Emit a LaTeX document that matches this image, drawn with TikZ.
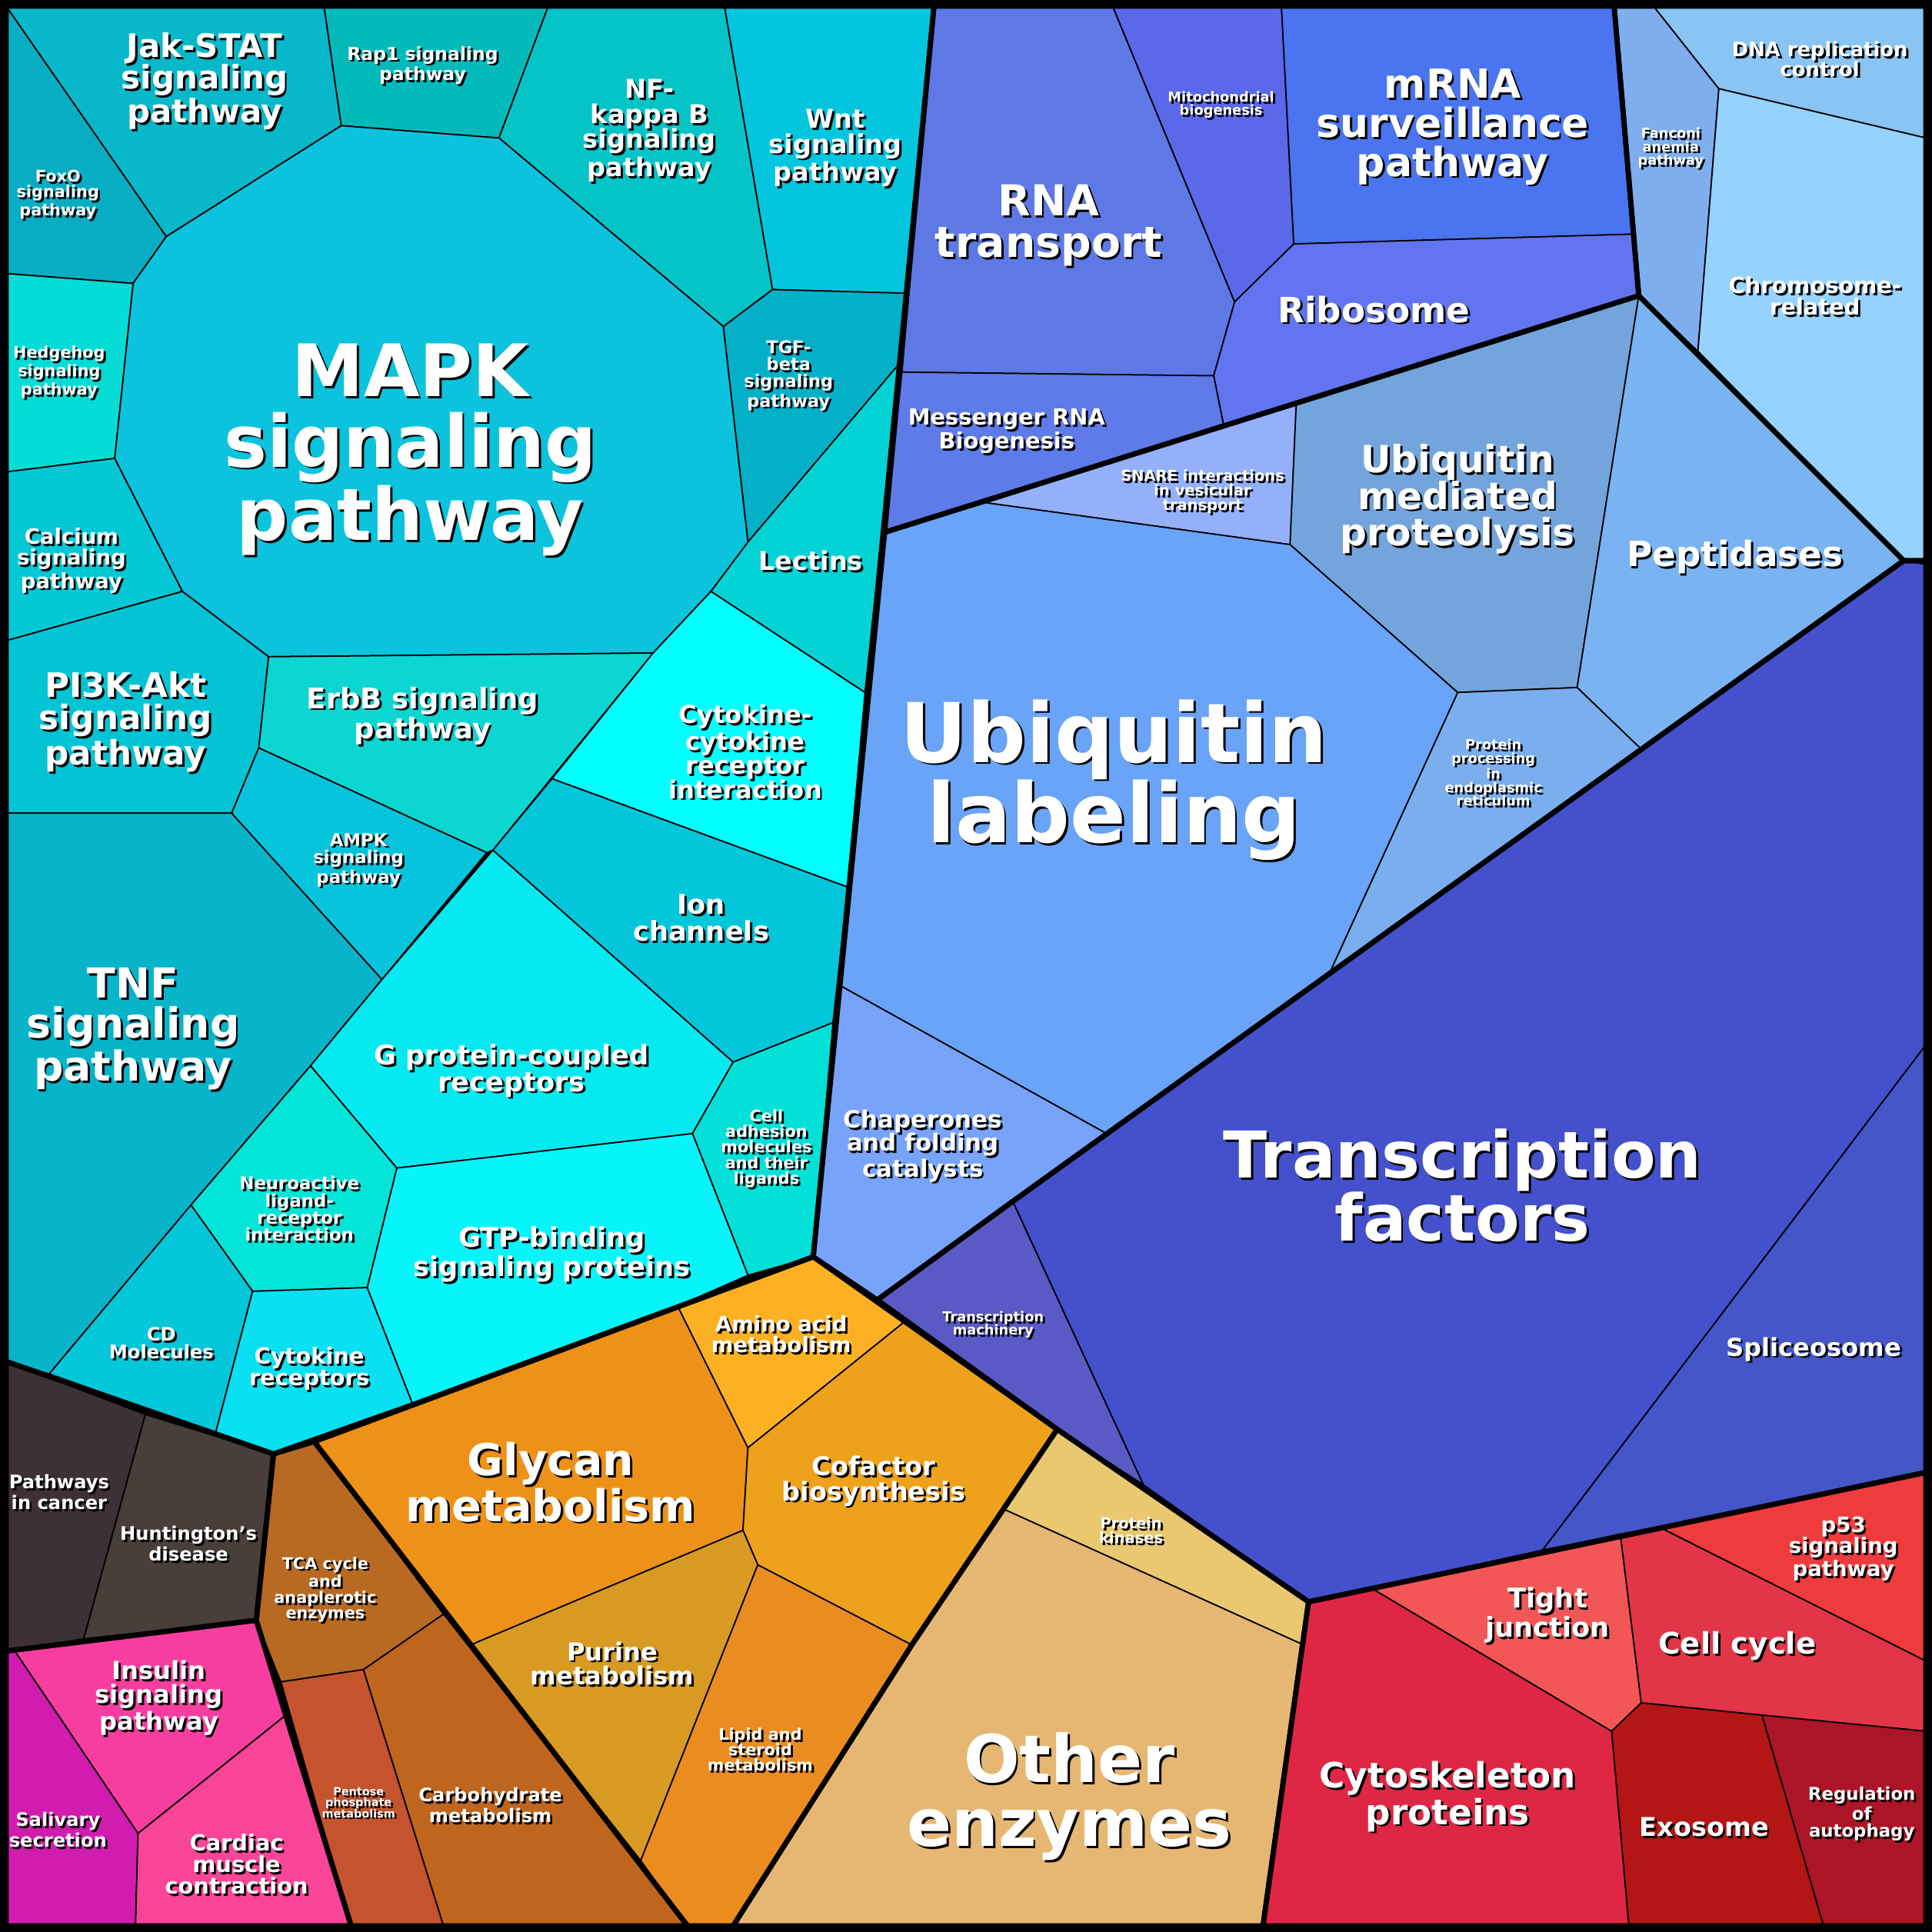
\documentclass[tikz,border=0pt]{standalone}
\usepackage{fontspec}
\setmainfont{DejaVu Sans}
\begin{document}
\begin{tikzpicture}[x=0.01602cm,y=-0.01602cm,
 cell/.style={draw=black,line width=0.5pt,line join=round},
 grp/.style={draw=black,line width=1.9pt,line join=round},
 lbl/.style={text=white,align=center,inner sep=0pt,font=\bfseries}]
\useasboundingbox (0,0) rectangle (1568,1568);
\fill[black] (0,0) rectangle (1568,1568);
\newcommand\cl[2]{\draw[cell,fill=#1] #2 -- cycle;}
\newcommand\lb[4]{%
 \node[lbl,text=black,xshift=.8pt,yshift=-.8pt,font=\bfseries\fontsize{\fpeval{#3*0.955}pt}{\fpeval{#3*0.93}pt}\selectfont] (#1s) at (#2) {#4};
 \node[lbl,font=\bfseries\fontsize{\fpeval{#3*0.955}pt}{\fpeval{#3*0.93}pt}\selectfont] (#1) at (#2) {#4};}
\definecolor{foxo}{HTML}{07AEC3}\definecolor{jak}{HTML}{07B8CA}\definecolor{rap}{HTML}{03BABB}
\definecolor{nfk}{HTML}{04C4C8}\definecolor{wnt}{HTML}{03C5DD}\definecolor{tgf}{HTML}{04AFC8}
\definecolor{mapk}{HTML}{0BC3DC}\definecolor{hh}{HTML}{05DCD6}\definecolor{calc}{HTML}{04C8D6}
\definecolor{pi3k}{HTML}{03C4D4}\definecolor{erbb}{HTML}{0CD6D2}\definecolor{ampk}{HTML}{06C4DC}
\definecolor{tnf}{HTML}{07B4C9}\definecolor{lect}{HTML}{04D3D6}\definecolor{cyto}{HTML}{00FFFF}
\definecolor{ion}{HTML}{03C6DA}\definecolor{cam}{HTML}{02E0D8}\definecolor{gpc}{HTML}{05EAF0}
\definecolor{gtp}{HTML}{05F5FA}\definecolor{neur}{HTML}{03E5D8}\definecolor{cdm}{HTML}{05C7DA}
\definecolor{cyr}{HTML}{09E0F2}
\definecolor{pic}{HTML}{3D3136}\definecolor{hun}{HTML}{483E3A}
\definecolor{ins}{HTML}{F73EA0}\definecolor{sal}{HTML}{D11CAF}\definecolor{card}{HTML}{F94598}
\definecolor{tca}{HTML}{B86A23}\definecolor{pent}{HTML}{C5532D}\definecolor{carb}{HTML}{C0651E}
\definecolor{gly}{HTML}{EE9118}\definecolor{amin}{HTML}{FBB122}\definecolor{cof}{HTML}{EEA11B}
\definecolor{pur}{HTML}{D89A22}\definecolor{lip}{HTML}{EA8C20}
\definecolor{kin}{HTML}{E9C870}\definecolor{oth}{HTML}{E6B772}
\definecolor{tmach}{HTML}{5A5AC6}\definecolor{tf}{HTML}{4450CC}\definecolor{spl}{HTML}{4456C8}
\definecolor{tj}{HTML}{F25656}\definecolor{csk}{HTML}{E02645}\definecolor{cc}{HTML}{E23548}
\definecolor{p53}{HTML}{EF3B3C}\definecolor{exo}{HTML}{B31615}\definecolor{aut}{HTML}{AB1527}
\definecolor{rnat}{HTML}{5E79E6}\definecolor{mito}{HTML}{5C68EA}\definecolor{mrna}{HTML}{4A74F0}
\definecolor{ribo}{HTML}{6274F0}\definecolor{mess}{HTML}{5F7AE9}
\definecolor{snare}{HTML}{94B0FB}\definecolor{ubm}{HTML}{73A5DC}\definecolor{pep}{HTML}{7AB3F2}
\definecolor{ppr}{HTML}{7AAEEF}\definecolor{ubl}{HTML}{69A4F8}\definecolor{chap}{HTML}{78A3FB}
\definecolor{fan}{HTML}{7FAEEF}\definecolor{dna}{HTML}{89C4F3}\definecolor{chr}{HTML}{95D2FD}
\cl{foxo}{(5,5)--(135,192)--(108,230)--(5,222)}
\cl{jak}{(5,5)--(263,5)--(277,102)--(135,192)}
\cl{rap}{(263,5)--(445,5)--(405,112)--(277,102)}
\cl{nfk}{(445,5)--(588,5)--(627,235)--(587,265)--(405,112)}
\cl{wnt}{(588,5)--(758,5)--(735,238)--(627,235)}
\cl{tgf}{(587,265)--(627,235)--(735,238)--(730,295)--(607,440)}
\cl{mapk}{(277,102)--(405,112)--(587,265)--(607,440)--(577,480)--(530,530)--(218,533)--(148,480)--(93,372)--(108,230)--(135,192)}
\cl{hh}{(5,222)--(108,230)--(93,372)--(5,383)}
\cl{calc}{(5,383)--(93,372)--(148,480)--(5,520)}
\cl{pi3k}{(5,520)--(148,480)--(218,533)--(210,607)--(188,660)--(5,660)}
\cl{erbb}{(218,533)--(530,530)--(400,690)--(395,692)--(210,607)}
\cl{ampk}{(210,607)--(395,692)--(310,795)--(188,660)}
\cl{tnf}{(5,660)--(188,660)--(310,795)--(252,865)--(155,978)--(40,1115)--(5,1105)}
\cl{lect}{(577,480)--(607,440)--(730,295)--(702,562)}
\cl{cyto}{(530,530)--(577,480)--(702,562)--(688,720)--(448,632)}
\cl{ion}{(448,632)--(688,720)--(676,830)--(595,862)--(400,690)}
\cl{gpc}{(310,795)--(400,690)--(595,862)--(562,920)--(322,948)--(252,865)}
\cl{cam}{(595,862)--(676,830)--(660,1020)--(607,1035)--(562,920)}
\cl{gtp}{(322,948)--(562,920)--(607,1035)--(550,1060)--(335,1140)--(298,1045)}
\cl{neur}{(252,865)--(322,948)--(298,1045)--(205,1048)--(155,978)}
\cl{cdm}{(155,978)--(205,1048)--(175,1163)--(40,1115)}
\cl{cyr}{(205,1048)--(298,1045)--(335,1140)--(222,1180)--(175,1163)}
\cl{pic}{(5,1105)--(118,1148)--(68,1330)--(5,1340)}
\cl{hun}{(118,1148)--(222,1180)--(208,1315)--(68,1330)}
\cl{ins}{(12,1340)--(208,1315)--(232,1392)--(112,1488)}
\cl{sal}{(5,1340)--(12,1340)--(112,1488)--(110,1563)--(5,1563)}
\cl{card}{(112,1488)--(232,1392)--(285,1563)--(110,1563)}
\cl{tca}{(222,1180)--(255,1170)--(360,1310)--(295,1355)--(228,1365)--(208,1315)}
\cl{pent}{(228,1365)--(295,1355)--(360,1563)--(285,1563)}
\cl{carb}{(295,1355)--(360,1310)--(558,1563)--(360,1563)}
\cl{gly}{(255,1170)--(550,1060)--(607,1175)--(603,1242)--(382,1335)--(360,1310)}
\cl{amin}{(550,1060)--(660,1020)--(735,1072)--(607,1175)}
\cl{cof}{(607,1175)--(735,1072)--(858,1160)--(740,1335)--(615,1270)--(603,1242)}
\cl{pur}{(382,1335)--(603,1242)--(615,1270)--(520,1510)}
\cl{lip}{(615,1270)--(740,1335)--(595,1563)--(558,1563)--(520,1510)}
\cl{kin}{(858,1160)--(928,1205)--(1062,1300)--(1058,1335)--(815,1225)}
\cl{oth}{(815,1225)--(1058,1335)--(1025,1563)--(595,1563)--(740,1335)}
\cl{tmach}{(712,1055)--(822,975)--(928,1205)--(858,1160)}
\cl{tf}{(822,975)--(1545,455)--(1563,455)--(1563,848)--(1252,1258)--(1062,1300)--(928,1205)}
\cl{spl}{(1563,848)--(1563,1195)--(1252,1258)}
\cl{csk}{(1062,1300)--(1115,1290)--(1308,1405)--(1322,1563)--(1025,1563)}
\cl{tj}{(1115,1290)--(1315,1245)--(1332,1382)--(1308,1405)}
\cl{cc}{(1315,1245)--(1348,1240)--(1563,1348)--(1563,1405)--(1430,1392)--(1332,1382)}
\cl{p53}{(1348,1240)--(1563,1195)--(1563,1348)}
\cl{exo}{(1332,1382)--(1430,1392)--(1480,1563)--(1322,1563)--(1308,1405)}
\cl{aut}{(1430,1392)--(1563,1405)--(1563,1563)--(1480,1563)}
\cl{rnat}{(758,5)--(903,5)--(1002,245)--(985,305)--(732,302)}
\cl{mito}{(903,5)--(1040,5)--(1050,198)--(1002,245)}
\cl{mrna}{(1040,5)--(1310,5)--(1327,190)--(1050,198)}
\cl{ribo}{(1002,245)--(1050,198)--(1327,190)--(1330,240)--(1052,328)--(993,345)--(985,305)}
\cl{mess}{(732,302)--(985,305)--(993,345)--(800,408)--(718,432)}
\cl{snare}{(800,408)--(1052,328)--(1047,442)}
\cl{ubm}{(1052,328)--(1330,240)--(1280,558)--(1183,562)--(1047,442)}
\cl{pep}{(1330,240)--(1545,455)--(1332,608)--(1280,558)}
\cl{ppr}{(1183,562)--(1280,558)--(1332,608)--(1078,792)}
\cl{ubl}{(718,432)--(800,408)--(1047,442)--(1183,562)--(1078,792)--(898,920)--(682,800)}
\cl{chap}{(682,800)--(898,920)--(712,1055)--(660,1020)}
\cl{fan}{(1310,5)--(1342,5)--(1395,72)--(1378,285)--(1330,240)}
\cl{dna}{(1342,5)--(1563,5)--(1563,112)--(1395,72)}
\cl{chr}{(1395,72)--(1563,112)--(1563,458)--(1545,455)--(1378,285)}
\draw[grp] (5,5)--(758,5)--(660,1020)--(335,1140)--(222,1180)--(5,1105)--cycle;
\draw[grp] (5,1105)--(222,1180)--(208,1315)--(5,1340)--cycle;
\draw[grp] (5,1340)--(208,1315)--(285,1563)--(5,1563)--cycle;
\draw[grp] (222,1180)--(255,1170)--(558,1563)--(285,1563)--(208,1315)--cycle;
\draw[grp] (255,1170)--(660,1020)--(858,1160)--(740,1335)--(595,1563)--(558,1563)--cycle;
\draw[grp] (858,1160)--(1062,1300)--(1025,1563)--(595,1563)--(740,1335)--cycle;
\draw[grp] (712,1055)--(822,975)--(1545,455)--(1563,455)--(1563,1195)--(1062,1300)--(858,1160)--cycle;
\draw[grp] (1062,1300)--(1563,1195)--(1563,1563)--(1025,1563)--cycle;
\draw[grp] (758,5)--(1310,5)--(1330,240)--(718,432)--cycle;
\draw[grp] (718,432)--(1330,240)--(1545,455)--(822,975)--(712,1055)--(660,1020)--cycle;
\draw[grp] (1310,5)--(1563,5)--(1563,455)--(1545,455)--(1330,240)--cycle;
\draw[line width=2.8pt] (4,4) rectangle (1564,1564);
\lb{l1}{166,66}{12.5}{Jak-STAT\\signaling\\pathway}
\lb{l2}{343,53}{7}{Rap1 signaling\\pathway}
\lb{l3}{527,106}{10}{NF-\\kappa B\\signaling\\pathway}
\lb{l4}{678,120}{10}{Wnt\\signaling\\pathway}
\lb{l5}{47,158}{6.2}{FoxO\\signaling\\pathway}
\lb{l6}{333,365}{28}{MAPK\\signaling\\pathway}
\lb{l7}{640,305}{6.7}{TGF-\\beta\\signaling\\pathway}
\lb{l8}{48,302}{6.2}{Hedgehog\\signaling\\pathway}
\lb{l9}{58,455}{8.2}{Calcium\\signaling\\pathway}
\lb{l10}{658,455}{10}{Lectins}
\lb{l11}{102,586}{13}{PI3K-Akt\\signaling\\pathway}
\lb{l12}{343,581}{11}{ErbB signaling\\pathway}
\lb{l13}{605,610}{9.6}{Cytokine-\\cytokine\\receptor\\interaction}
\lb{l14}{291,698}{6.8}{AMPK\\signaling\\pathway}
\lb{l15}{569,745}{10.5}{Ion\\channels}
\lb{l16}{108,835}{16}{TNF\\signaling\\pathway}
\lb{l17}{415,869}{10.5}{G protein-coupled\\receptors}
\lb{l18}{622,932}{6.2}{Cell\\adhesion\\molecules\\and their\\ligands}
\lb{l19}{243,981}{6.8}{Neuroactive\\ligand-\\receptor\\interaction}
\lb{l20}{448,1018}{10.5}{GTP-binding\\signaling proteins}
\lb{l21}{131,1090}{7.2}{CD\\Molecules}
\lb{l22}{251,1111}{8.6}{Cytokine\\receptors}
\lb{l23}{48,1211}{7.2}{Pathways\\in cancer}
\lb{l24}{153,1253}{7.2}{Huntington's\\disease}
\lb{l25}{129,1378}{9.6}{Insulin\\signaling\\pathway}
\lb{l26}{47,1485}{7.2}{Salivary\\secretion}
\lb{l27}{192,1513}{8.6}{Cardiac\\muscle\\contraction}
\lb{l28}{264,1290}{6.2}{TCA cycle\\and\\anaplerotic\\enzymes}
\lb{l29}{291,1463}{4.3}{Pentose\\phosphate\\metabolism}
\lb{l30}{398,1465}{7.2}{Carbohydrate\\metabolism}
\lb{l31}{447,1203}{17}{Glycan\\metabolism}
\lb{l32}{634,1083}{8.2}{Amino acid\\metabolism}
\lb{l33}{709,1202}{10}{Cofactor\\biosynthesis}
\lb{l34}{497,1350}{9.6}{Purine\\metabolism}
\lb{l35}{617,1420}{6.2}{Lipid and\\steroid\\metabolism}
\lb{l36}{918,1242}{5.8}{Protein\\kinases}
\lb{l37}{868,1458}{25.5}{Other\\enzymes}
\lb{l38}{806,1075}{5.3}{Transcription\\machinery}
\lb{l39}{1187,962}{25}{Transcription\\factors}
\lb{l40}{1472,1095}{9.6}{Spliceosome}
\lb{l41}{1256,1311}{10.5}{Tight\\junction}
\lb{l42}{1410,1336}{11.5}{Cell cycle}
\lb{l43}{1496,1257}{8.2}{p53\\signaling\\pathway}
\lb{l44}{1175,1458}{13.5}{Cytoskeleton\\proteins}
\lb{l45}{1383,1483}{10}{Exosome}
\lb{l46}{1511,1472}{6.8}{Regulation\\of\\autophagy}
\lb{l47}{851,183}{16.5}{RNA\\transport}
\lb{l48}{991,85}{5.3}{Mitochondrial\\biogenesis}
\lb{l49}{1179,103}{15.5}{mRNA\\surveillance\\pathway}
\lb{l50}{1115,251}{13.5}{Ribosome}
\lb{l51}{817,350}{8.6}{Messenger RNA\\Biogenesis}
\lb{l52}{976,399}{5.8}{SNARE interactions\\in vesicular\\transport}
\lb{l53}{1183,405}{14.5}{Ubiquitin\\mediated\\proteolysis}
\lb{l54}{1408,452}{13.5}{Peptidases}
\lb{l55}{1212,627}{5.3}{Protein\\processing\\in\\endoplasmic\\reticulum}
\lb{l56}{904,633}{32}{Ubiquitin\\labeling}
\lb{l57}{749,930}{9.2}{Chaperones\\and folding\\catalysts}
\lb{l58}{1356,120}{5.3}{Fanconi\\anemia\\pathway}
\lb{l59}{1477,48}{7.7}{DNA replication\\control}
\lb{l60}{1473,240}{8.6}{Chromosome-\\related}
\end{tikzpicture}
\end{document}
